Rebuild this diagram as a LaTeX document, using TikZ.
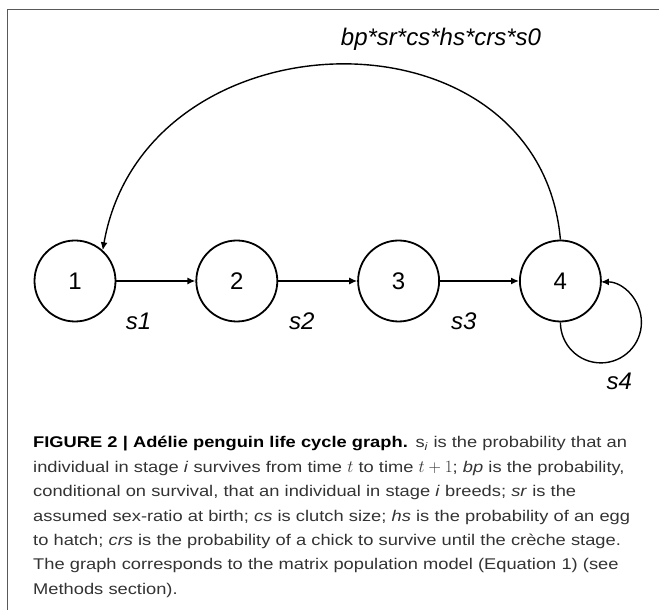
\documentclass[tikz,border=0pt]{standalone}
\usepackage{fontspec}
\setmainfont{Liberation Sans}
\usetikzlibrary{arrows.meta,positioning}
\definecolor{framegray}{gray}{0.35}
\definecolor{captiongray}{gray}{0.2}
\tikzset{
	stage/.style={circle,draw,line width=1.8bp,minimum size=81bp,inner sep=0pt,font=\fontsize{24bp}{28bp}\selectfont},%
	transition/.style={line width=1.4bp,-{Latex[length=8bp,width=7bp]}},%
	rate/.style={font=\fontsize{24bp}{28bp}\selectfont\itshape},%
	figframe/.style={framegray,line width=1bp},%
	captiontext/.style={anchor=base west,inner sep=0pt,text width=625bp,align=left,text=captiongray,font=\fontsize{15.5bp}{24.4bp}\selectfont\addfontfeatures{FakeStretch=1.18}},%
}
\def\stagegap{79bp}
\def\ratedrop{28bp}
\newcommand{\capmath}[1]{{\fontsize{18bp}{24.4bp}\selectfont$#1$}}

\begin{document}
\begin{tikzpicture}[x=1bp,y=1bp]
	\useasboundingbox (0,0) rectangle (659,610);
	\draw[figframe] (659,600) -- (7,600) -- (7,0);
	\node[stage] (n1) at (75,329) {1};
	\node[stage,right=\stagegap of n1] (n2) {2};
	\node[stage,right=\stagegap of n2] (n3) {3};
	\node[stage,right=\stagegap of n3] (n4) {4};
	\draw[transition] (n1) -- (n2) node[rate,pos=.28,below=\ratedrop] (r1) {s1};
	\draw[transition] (n2) -- (n3) node[rate,pos=.30,below=\ratedrop] (r2) {s2};
	\draw[transition] (n3) -- (n4) node[rate,pos=.30,below=\ratedrop] (r3) {s3};
	\draw[transition] (n4.north) .. controls +(95:240) and +(80:245) .. (n1.48);
	\node[rate] (r0) at (441,571) {bp*sr*cs*hs*crs*s0};
	\draw[transition] (n4.south) arc[start angle=180,end angle=450,radius=40.5];
	\node[rate] (r4) at ([shift={(59,-100)}]n4) {s4};
	\node[captiontext] (cap) at (33,162) {\textcolor{black}{\textbf{FIGURE 2 | Adélie penguin life cycle graph.}} s\textsubscript{\textit{i}} is the probability that an\\
		individual in stage \textit{i} survives from time \capmath{t} to time \capmath{t+1}; \textit{bp} is the probability,\\
		conditional on survival, that an individual in stage \textit{i} breeds; \textit{sr} is the\\
		assumed sex-ratio at birth; \textit{cs} is clutch size; \textit{hs} is the probability of an egg\\
		to hatch; \textit{crs} is the probability of a chick to survive until the crèche stage.\\
		The graph corresponds to the matrix population model (Equation 1) (see\\
		Methods section).};
\end{tikzpicture}
\end{document}
